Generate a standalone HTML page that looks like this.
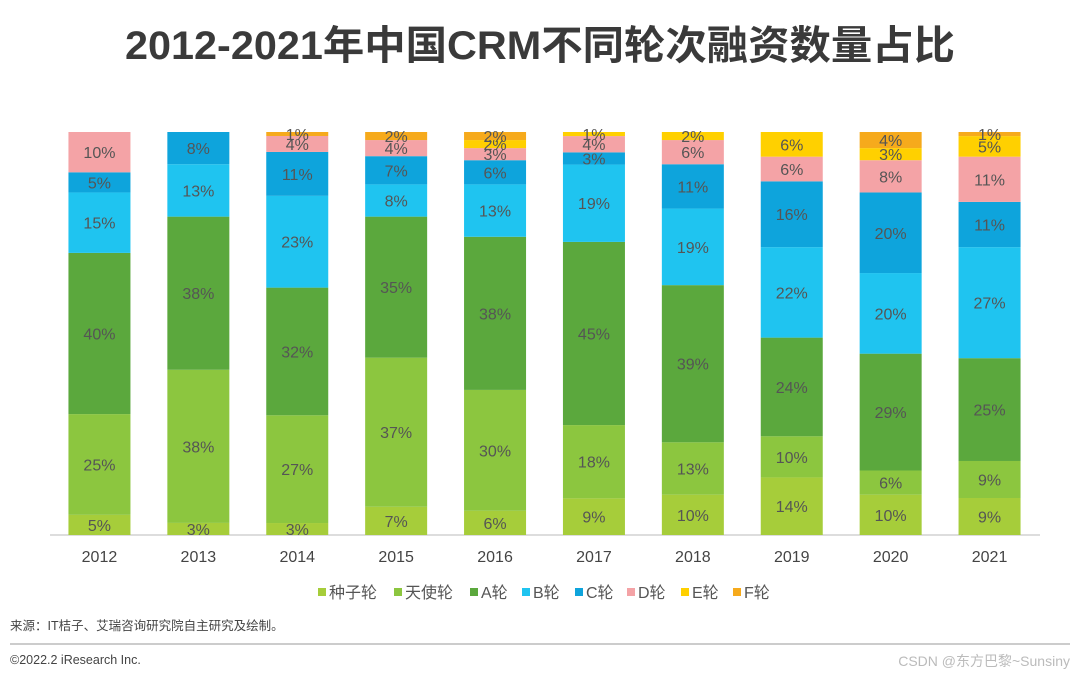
<!DOCTYPE html>
<html><head><meta charset="utf-8"><style>
body{margin:0;width:1080px;height:678px;background:#fff;overflow:hidden;font-family:"Liberation Sans","Noto Sans CJK SC",sans-serif;}
</style></head><body>
<svg id="c" width="1080" height="678" xmlns="http://www.w3.org/2000/svg">
<text x="540" y="59" text-anchor="middle" font-size="40" font-weight="bold" fill="#3a3a3a" textLength="830" lengthAdjust="spacingAndGlyphs">2012-2021年中国CRM不同轮次融资数量占比</text>
<line x1="50" y1="535" x2="1040" y2="535" stroke="#bbb"/>
<text x="10" y="630" font-size="12.5" fill="#444">来源：IT桔子、艾瑞咨询研究院自主研究及绘制。</text>
<line x1="10" y1="644" x2="1070" y2="644" stroke="#999"/>
<text x="10" y="664" font-size="12.5" fill="#444">©2022.2 iResearch Inc.</text>
<text x="1070" y="666" text-anchor="end" font-size="14" fill="#bbb">CSDN @东方巴黎~Sunsiny</text>
<g id="bars"></g><g id="legend"></g>
</svg>
<script>
const years=["2012","2013","2014","2015","2016","2017","2018","2019","2020","2021"];
const seriesNames=["种子轮","天使轮","A轮","B轮","C轮","D轮","E轮","F轮"];
const seed=[5,3,3,7,6,9,10,14,10,9];
const angel=[25,38,27,37,30,18,13,10,6,9];
const roundA=[40,38,32,35,38,45,39,24,29,25];
const roundB=[15,13,23,8,13,19,19,22,20,27];
const roundC=[5,8,11,7,6,3,11,16,20,11];
const roundD=[10,0,4,4,3,4,6,6,8,11];
const roundE=[0,0,0,0,2,1,2,6,3,5];
const roundF=[0,0,1,2,2,0,0,0,4,1];
const series=[seed,angel,roundA,roundB,roundC,roundD,roundE,roundF];
const colors=["#a6cd3a","#8cc63f","#5ba83d","#1fc4f0","#0ea4dc","#f4a3a6","#ffd000","#f6aa1c"];
const ns="http://www.w3.org/2000/svg";
const top0=132,bot=535,x0=50,step=98.9,bw=62;
const xC=i=>x0+step*(i+0.5);
const yS=(v,tot)=>v/tot*(bot-top0);
const g=document.getElementById('bars');
years.forEach((yr,i)=>{
  let tot=0;series.forEach(s=>tot+=s[i]);
  let y=bot;
  series.forEach((s,k)=>{
    const v=s[i];if(!v)return;
    const h=yS(v,tot);y-=h;
    const r=document.createElementNS(ns,'rect');
    r.setAttribute('x',xC(i)-bw/2);r.setAttribute('y',y);r.setAttribute('width',bw);r.setAttribute('height',h);r.setAttribute('fill',colors[k]);
    
    
    g.appendChild(r);
    const t=document.createElementNS(ns,'text');
    t.setAttribute('x',xC(i));t.setAttribute('y',y+h/2+6);t.setAttribute('text-anchor','middle');t.setAttribute('font-size','16');t.setAttribute('fill','#555');
    t.textContent=v+'%';
    
    
    g.appendChild(t);
  });
  const l=document.createElementNS(ns,'text');
  l.setAttribute('x',xC(i));l.setAttribute('y',562);l.setAttribute('text-anchor','middle');l.setAttribute('font-size','16');l.setAttribute('fill','#444');
  l.textContent=yr;
  
  
  g.appendChild(l);
});
const lg=document.getElementById('legend');
const lx=[318,394,470,522,575,627,681,733];
seriesNames.forEach((n,k)=>{
  const r=document.createElementNS(ns,'rect');
  r.setAttribute('x',lx[k]);r.setAttribute('y',588);r.setAttribute('width',8);r.setAttribute('height',8);r.setAttribute('fill',colors[k]);
  
  
  lg.appendChild(r);
  const t=document.createElementNS(ns,'text');
  t.setAttribute('x',lx[k]+11);t.setAttribute('y',598);t.setAttribute('font-size','16');t.setAttribute('fill','#555');
  t.textContent=n;
  
  
  lg.appendChild(t);
});
</script>
</body></html>
